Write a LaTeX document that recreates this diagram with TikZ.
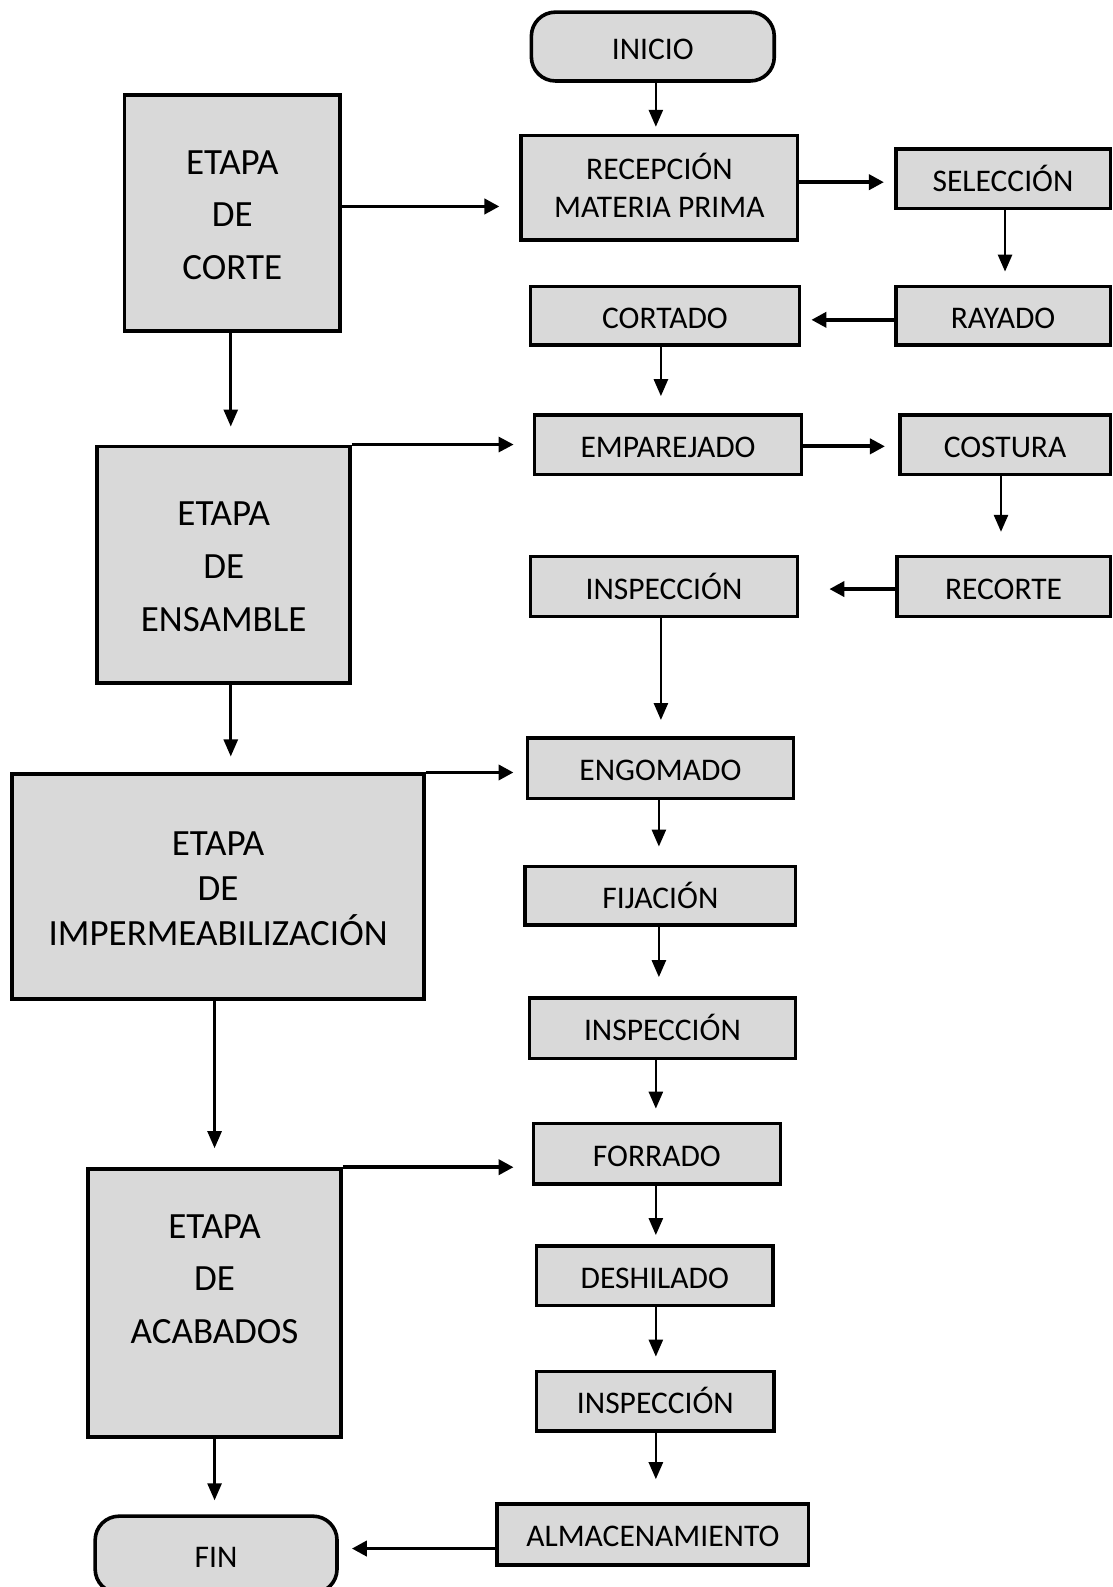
\documentclass[tikz,border=0pt]{standalone}
\usepackage{fontspec}
\setmainfont{Carlito}
\usetikzlibrary{arrows.meta,fit}
\definecolor{boxgray}{HTML}{D9D9D9}
\begin{document}
\begin{tikzpicture}[x=1.0119pt,y=-1.0119pt,
  boxlabel/.style={align=center,inner sep=0pt,font=\fontsize{31.5}{38.5}\selectfont},
  stagelabel/.style={align=center,inner sep=0pt,font=\fontsize{37}{52.6}\selectfont},
  pbox/.style={draw=black,fill=boxgray,line width=3.6pt,inner sep=0pt},
  term/.style={pbox,rounded corners=24pt},
  txt/.style={label={[boxlabel,text height=25.2pt,text depth=0pt]center:{#1}}},
  stxt/.style={label={[stagelabel,yshift=-2pt]center:{#1}}},
  varrow/.style={line width=2.6pt,-{Triangle[length=17pt,width=14pt]}},
  harrow/.style={line width=3.8pt,-{Triangle[length=15pt,width=15pt]}}]
\useasboundingbox (0,0) rectangle (1099,1568);

% process steps, right column
\node[term, fit={(525,12) (765,80)},    txt={INICIO}]                 (inicio)  {};
\node[pbox, fit={(515,134) (788,237)},
  label={[boxlabel,yshift=2.5pt]center:{RECEPCIÓN\\MATERIA PRIMA}}]   (recep)   {};
\node[pbox, fit={(885,147) (1097,206)}, txt={SELECCIÓN}]              (selec)   {};
\node[pbox, fit={(885,283) (1097,341)}, txt={RAYADO}]                 (rayado)  {};
\node[pbox, fit={(524,283) (790,341)},  txt={CORTADO}]                (cortado) {};
\node[pbox, fit={(528,410) (792,469)},  txt={EMPAREJADO}]             (empar)   {};
\node[pbox, fit={(889,410) (1097,469)}, txt={COSTURA}]                (costura) {};
\node[pbox, fit={(886,550) (1097,609)}, txt={RECORTE}]                (recorte) {};
\node[pbox, fit={(524,550) (788,609)},  txt={INSPECCIÓN}]             (inspa)   {};
\node[pbox, fit={(521,729) (784,789)},  txt={ENGOMADO}]               (engom)   {};
\node[pbox, fit={(519,856) (786,914)},  txt={FIJACIÓN}]               (fijac)   {};
\node[pbox, fit={(523,986) (786,1046)}, txt={INSPECCIÓN}]             (inspb)   {};
\node[pbox, fit={(527,1110) (771,1170)},txt={FORRADO}]                (forr)    {};
\node[pbox, fit={(530,1231) (764,1290)},txt={DESHILADO}]              (deshil)  {};
\node[pbox, fit={(530,1355) (765,1414)},txt={INSPECCIÓN}]             (inspc)   {};
\node[pbox, fit={(491,1486) (799,1546)},txt={ALMACENAMIENTO}]         (almac)   {};
\node[term, fit={(94,1498) (333,1574)}, txt={FIN}]                    (fin)     {};

% stages, left column
\node[pbox, fit={(123,94) (336,327)},   stxt={ETAPA\\DE\\CORTE}]      (corte)   {};
\node[pbox, fit={(96,441) (346,675)},   stxt={ETAPA\\DE\\ENSAMBLE}]   (ensam)   {};
\node[pbox, fit={(12,765) (419,987)},
  label={[stagelabel,yshift=-2pt,font=\fontsize{37}{45}\selectfont]center:{ETAPA\\DE\\IMPERMEABILIZACIÓN}}] (imper) {};
\node[pbox, fit={(87,1155) (337,1420)},
  label={[stagelabel,yshift=24pt]center:{ETAPA\\DE\\ACABADOS}}] (acab) {};

% vertical flow
\draw[varrow,shorten >=7pt]  (648,0 |- inicio.south)  -- (648,0 |- recep.north);
\draw[varrow,shorten >=13pt] (993,0 |- selec.south)   -- (993,0 |- rayado.north);
\draw[varrow,shorten >=17pt] (653,0 |- cortado.south) -- (653,0 |- empar.north);
\draw[varrow,shorten >=18pt] (228,0 |- corte.south)   -- (228,0 |- ensam.north);
\draw[varrow,shorten >=23pt] (989,0 |- costura.south) -- (989,0 |- recorte.north);
\draw[varrow,shorten >=16pt] (653,0 |- inspa.south)   -- (653,0 |- engom.north);
\draw[varrow,shorten >=16pt] (228,0 |- ensam.south)   -- (228,0 |- imper.north);
\draw[varrow,shorten >=18pt] (651,0 |- engom.south)   -- (651,0 |- fijac.north);
\draw[varrow,shorten >=19pt] (651,0 |- fijac.south)   -- (651,0 |- inspb.north);
\draw[varrow,shorten >=13pt] (648,0 |- inspb.south)   -- (648,0 |- forr.north);
\draw[varrow,shorten >=19pt] (212,0 |- imper.south)   -- (212,0 |- acab.north);
\draw[varrow,shorten >=9pt]  (648,0 |- forr.south)    -- (648,0 |- deshil.north);
\draw[varrow,shorten >=13pt] (648,0 |- deshil.south)  -- (648,0 |- inspc.north);
\draw[varrow,shorten >=23pt] (648,0 |- inspc.south)   -- (648,0 |- almac.north);
\draw[varrow,shorten >=14pt] (212,0 |- acab.south)    -- (212,0 |- fin.north);

% horizontal flow
\draw[harrow,shorten >=20pt] (corte.east |- 0,204)   -- (recep.west |- 0,204);
\draw[harrow,shorten >=10pt] (recep.east |- 0,180)   -- (selec.west |- 0,180);
\draw[harrow,shorten >=10pt] (rayado.west |- 0,316)  -- (cortado.east |- 0,316);
\draw[harrow,line width=3pt,shorten >=19pt] (ensam.north east) -- (empar.west |- ensam.north east);
\draw[harrow,shorten >=13pt] (empar.east |- 0,441)   -- (costura.west |- 0,441);
\draw[harrow,shorten >=30pt] (recorte.west |- 0,582) -- (inspa.east |- 0,582);
\draw[harrow,shorten >=12pt] (imper.north east)      -- (engom.west |- imper.north east);
\draw[harrow,shorten >=18pt] (acab.north east)       -- (forr.west |- acab.north east);
\draw[harrow,shorten >=13pt] (almac.west |- 0,1530)  -- (fin.east |- 0,1530);
\end{tikzpicture}
\end{document}
